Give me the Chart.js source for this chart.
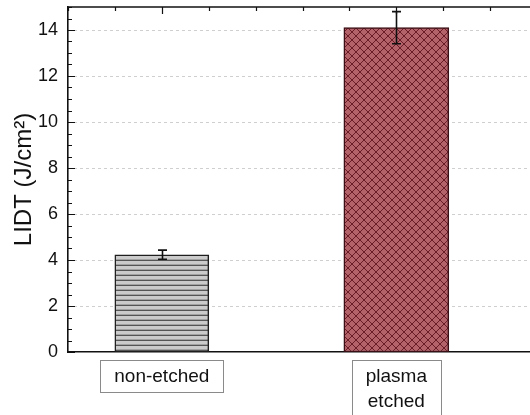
<!DOCTYPE html>
<html>
<head>
<meta charset="utf-8">
<script src="https://cdn.jsdelivr.net/npm/chart.js@4"></script>
<style>
  html, body { margin: 0; padding: 0; background: #fff; }
  #wrap { width: 530px; height: 415px; }
</style>
</head>
<body>
<div id="wrap"><canvas id="c" width="530" height="415"></canvas></div>
<script>
// ---- data ----
const categories = [['non-etched'], ['plasma', 'etched']];
const lidtValues = [4.23, 14.1];
const lidtErrors = [0.2, 0.7];
const yTickValues = [0, 2, 4, 6, 8, 10, 12, 14];
const yAxisTitle = 'LIDT (J/cm\u00B2)';

// ---- patterns ----
function hPattern() {
  const t = document.createElement('canvas');
  t.width = 8; t.height = 5;
  const g = t.getContext('2d');
  g.fillStyle = '#cbcbcb'; g.fillRect(0, 0, 8, 5);
  g.fillStyle = '#a2a2a2'; g.fillRect(0, 4, 8, 1);
  g.fillStyle = '#555555'; g.fillRect(0, 0, 8, 1);
  return g.createPattern(t, 'repeat');
}
function xPattern() {
  const s = 8;
  const t = document.createElement('canvas');
  t.width = s; t.height = s;
  const g = t.getContext('2d');
  g.fillStyle = '#b4626a'; g.fillRect(0, 0, s, s);
  g.strokeStyle = '#6a1d27'; g.lineWidth = 1;
  g.beginPath();
  for (let o = -s; o <= s; o += s) {
    g.moveTo(o, 0); g.lineTo(o + s, s);
    g.moveTo(o, s); g.lineTo(o + s, 0);
  }
  g.stroke();
  return g.createPattern(t, 'repeat');
}

const fills = [hPattern(), xPattern()];
const borders = ['#1e1e1e', '#3a0f15'];
const thickness = [94, 105];

const datasets = lidtValues.map((v, i) => ({
  label: categories[i].join(' '),
  data: [{ x: i + 1, y: v }],
  backgroundColor: fills[i],
  borderColor: borders[i],
  borderWidth: 1.5,
  borderSkipped: false,
  barThickness: thickness[i],
  errors: [lidtErrors[i]]
}));

const FONT = "'Liberation Sans', Arial, sans-serif";

const decoPlugin = {
  id: 'deco',
  beforeDatasetsDraw(chart) {
    const ctx = chart.ctx;
    const a = chart.chartArea;
    const ys = chart.scales.y;
    ctx.save();
    ctx.strokeStyle = '#cfcfcf';
    ctx.lineWidth = 1;
    ctx.setLineDash([3, 3]);
    ctx.beginPath();
    yTickValues.forEach(v => {
      if (v === 0) return;
      const y = Math.round(ys.getPixelForValue(v)) + 0.5;
      ctx.moveTo(a.left, y); ctx.lineTo(a.right, y);
    });
    ctx.stroke();
    ctx.restore();
  },
  afterDatasetsDraw(chart) {
    const ctx = chart.ctx;
    const ys = chart.scales.y;
    ctx.save();
    ctx.strokeStyle = '#111';
    ctx.lineWidth = 1.6;
    chart.data.datasets.forEach((ds, di) => {
      const meta = chart.getDatasetMeta(di);
      meta.data.forEach((el, j) => {
        const v = ds.data[j].y, e = ds.errors[j];
        const x = Math.round(el.x) + 0.5;
        const yt = ys.getPixelForValue(v + e);
        const yb = ys.getPixelForValue(v - e);
        ctx.beginPath();
        ctx.moveTo(x, yt); ctx.lineTo(x, yb);
        ctx.moveTo(x - 4.5, yt); ctx.lineTo(x + 4.5, yt);
        ctx.moveTo(x - 4.5, yb); ctx.lineTo(x + 4.5, yb);
        ctx.stroke();
      });
    });
    ctx.restore();
  },
  afterDraw(chart) {
    const ctx = chart.ctx;
    const a = chart.chartArea;
    const ys = chart.scales.y, xs = chart.scales.x;
    ctx.save();
    ctx.strokeStyle = '#111';
    ctx.lineWidth = 1.5;
    ctx.beginPath();
    ctx.moveTo(a.left, a.top); ctx.lineTo(a.right, a.top);
    ctx.stroke();
    ctx.lineWidth = 1.2;
    ctx.beginPath();
    for (let k = 0; k <= 30; k++) {
      const v = k * 0.5;
      if (v > ys.max) break;
      const y = Math.round(ys.getPixelForValue(v)) + 0.5;
      const len = (k % 4 === 0) ? 7 : 4;
      ctx.moveTo(a.left, y); ctx.lineTo(a.left + len, y);
    }
    ctx.stroke();
    ctx.beginPath();
    for (let k = 0; k <= 20; k++) {
      const v = 0.6 + k * 0.2;
      if (v > xs.max) break;
      const x = Math.round(xs.getPixelForValue(v)) + 0.5;
      const major = Math.abs(v - Math.round(v)) < 1e-6;
      ctx.moveTo(x, a.top); ctx.lineTo(x, a.top + (major ? 7 : 4));
    }
    ctx.stroke();
    ctx.strokeStyle = '#8a8a8a';
    ctx.lineWidth = 1;
    ctx.font = '19px ' + FONT;
    categories.forEach((lines, i) => {
      const cx = xs.getPixelForValue(i + 1);
      const w = Math.max(...lines.map(l => ctx.measureText(l).width)) + 28;
      const h = lines.length * 25 + 7;
      const top = a.bottom + 8;
      ctx.strokeRect(Math.round(cx - w / 2) + 0.5, top + 0.5, Math.round(w), h);
    });
    ctx.restore();
  }
};

new Chart(document.getElementById('c'), {
  type: 'bar',
  data: { datasets },
  options: {
    responsive: false,
    animation: false,
    devicePixelRatio: 1,
    grouped: false,
    layout: { padding: { top: 7, right: 0, left: 0, bottom: 0 } },
    plugins: { legend: { display: false }, tooltip: { enabled: false } },
    scales: {
      x: {
        type: 'linear',
        min: 0.6,
        max: 2.57,
        offset: false,
        afterBuildTicks: s => { s.ticks = categories.map((c, i) => ({ value: i + 1 })); },
        afterFit: s => { s.height = 63; s.paddingLeft = 0; s.paddingRight = 0; s.paddingTop = 0; s.paddingBottom = 0; },
        ticks: {
          callback: (v) => categories[Math.round(v) - 1],
          font: { family: FONT, size: 19, lineHeight: 25 / 19 },
          color: '#111',
          padding: 12,
          maxRotation: 0,
          autoSkip: false
        },
        grid: { display: false, drawTicks: false },
        border: { display: true, color: '#111', width: 1.5 }
      },
      y: {
        min: 0,
        max: 15,
        afterBuildTicks: s => { s.ticks = yTickValues.map(v => ({ value: v })); },
        afterFit: s => { s.width = 68; s.paddingTop = 0; s.paddingBottom = 0; s.paddingLeft = 0; s.paddingRight = 0; },
        ticks: {
          font: { family: FONT, size: 18 },
          color: '#111',
          padding: 10
        },
        grid: { display: false, drawTicks: false },
        border: { display: true, color: '#111', width: 1.6 },
        title: {
          display: true,
          text: yAxisTitle,
          font: { family: FONT, size: 24 },
          color: '#111',
          padding: { top: 10, bottom: 0 }
        }
      }
    }
  },
  plugins: [decoPlugin]
});
</script>
</body>
</html>
